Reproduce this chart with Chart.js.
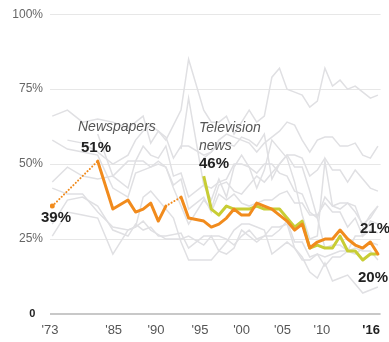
<!DOCTYPE html>
<html lang="en">
<head>
  <meta charset="UTF-8">
  <script src="https://cdn.jsdelivr.net/npm/chart.js@4.4.0/dist/chart.umd.min.js"></script>
  <title>Confidence in news media</title>
  <style>
    html, body { margin: 0; padding: 0; background: #fff; }
    #wrap { width: 389px; height: 342px; }
  </style>
</head>
<body>
  <div id="wrap"><canvas id="myChart" width="389" height="342"></canvas></div>

<script>
  // survey years (not asked every year before 1993)
  var years = [1973, 1975, 1977, 1979, 1981, 1983, 1984, 1985, 1986, 1987, 1988, 1989, 1990, 1991,
    1993, 1994, 1995, 1996, 1997, 1998, 1999, 2000, 2001, 2002, 2003, 2004,
    2005, 2006, 2007, 2008, 2009, 2010, 2011, 2012, 2013, 2014, 2015, 2016];

  // % with a great deal / quite a lot of confidence
  // (null = not asked that year, bridged with a dotted line)
  var newspapers = [36, null, null, 51, 35, 38, 34, 35, 37, 31, 36, null, 39, 32,
    31, 29, 30, 32, 35, 33, 33, 37, 36, 35, 33, 31,
    28, 30, 22, 24, 25, 25, 28, 25, 23, 22, 24, 20];
  var tvNews = [null, null, null, null, null, null, null, null, null, null, null, null, null, null,
    46, 35, 33, 36, 35, 35, 35, 36, 35, 35, 35, 32,
    29, 31, 22, 23, 22, 22, 26, 21, 21, 18, 20, 20];

  // other institutions, drawn in grey behind
  var military = [null, 58, 57, 54, 50, 53, 58, 61, 63, 61, 58, 63, 68, 85,
    68, 64, 64, 66, 60, 64, 68, 64, 66, 79, 82, 75,
    74, 73, 69, 71, 82, 76, 78, 75, 76, 74, 72, 73];
  var church = [66, 68, 64, 65, 64, 62, 64, 66, 57, 61, 59, 52, 56, 56,
    53, 54, 57, 57, 56, 59, 58, 56, 60, 45, 50, 53,
    53, 52, 46, 48, 52, 48, 48, 44, 48, 45, 42, 41];
  var supremeCourt = [44, 49, 46, 45, 46, 42, 51, 56, 53, 52, 56, 46, 47, 39,
    43, 42, 44, 45, 50, 50, 49, 47, 50, 50, 47, 46,
    41, 40, 34, 32, 39, 36, 37, 37, 34, 30, 32, 36];
  var schools = [58, 55, 54, 53, 42, 39, 47, 48, 49, 50, 49, 43, 45, 35,
    39, 34, 40, 38, 40, 37, 36, 37, 38, 38, 40, 41,
    37, 37, 33, 33, 37, 34, 34, 29, 32, 26, 31, 30];
  var banks = [null, null, null, 60, 46, 51, 51, 51, 49, 51, 49, 42, 36, 30,
    38, 35, 43, 44, 41, 40, 43, 46, 44, 47, 50, 53,
    49, 49, 41, 32, 22, 23, 23, 21, 26, 26, 28, 27];
  var police = [null, null, null, null, null, null, null, null, null, null, null, null, null, null,
    52, 54, 58, 60, 59, 58, 57, 54, 57, 59, 61, 64,
    63, 58, 54, 58, 59, 59, 56, 56, 57, 53, 52, 56];
  var labor = [30, 38, 39, 36, 28, 26, 30, 28, 29, 26, 26, null, 27, 22,
    26, 26, 26, 25, 23, 26, 28, 25, 26, 26, 28, 31,
    24, 24, 19, 20, 19, 20, 21, 21, 20, 22, 24, 23];
  var bigBusiness = [26, 34, 33, 32, 20, 28, 29, 31, 28, null, 25, null, 25, 26,
    23, 26, 21, 24, 28, 30, 30, 29, 28, 20, 22, 24,
    22, 18, 18, 20, 16, 19, 19, 21, 22, 21, 21, 18];
  var congress = [42, 40, 40, 34, 29, 28, 29, 39, 41, null, 35, 32, 24, 18,
    18, 18, 21, 20, 22, 28, 26, 24, 26, 29, 29, 30,
    22, 19, 14, 12, 17, 11, 12, 13, 10, 7, 8, 9];
  var presidency = [null, null, null, null, null, null, null, null, null, null, null, null, 55, 72,
    43, 38, 45, 39, 49, 53, 49, 42, 48, 58, 55, 52,
    44, 33, 25, 26, 51, 36, 35, 37, 36, 29, 33, 36];

  var greySeries = [military, church, supremeCourt, schools, banks, police, labor, bigBusiness, congress, presidency];

  // x axis labels (the picture spaces them on its own grid)
  var tickLabels = ["'73", "'85", "'90", "'95", "'00", "'05", "'10", "'16"];
  var tickPos = [1972.7, 1981.1, 1986.7, 1992.5, 1998.0, 2003.4, 2008.6, 2015.1];

  var FONT = '"Liberation Sans", Arial, sans-serif';
  var ORANGE = '#f18b1d';
  var GREEN = '#c8cd35';

  function toPoints(vals) {
    var out = [];
    for (var i = 0; i < years.length; i++) {
      out.push({ x: years[i], y: vals[i] });
    }
    return out;
  }

  function isZero(c) {
    return c.tick && c.tick.value === 0;
  }

  // text labels written on top of the lines
  var notes = [
    { t: 'Newspapers', x: 78, y: 131, font: 'italic 14px ' + FONT, color: '#555' },
    { t: '51%', x: 81, y: 152, font: 'bold 15px ' + FONT, color: '#222' },
    { t: '39%', x: 41, y: 222, font: 'bold 15px ' + FONT, color: '#222' },
    { t: 'Television', x: 199, y: 132, font: 'italic 14px ' + FONT, color: '#555' },
    { t: 'news', x: 199, y: 150, font: 'italic 14px ' + FONT, color: '#555' },
    { t: '46%', x: 199, y: 168, font: 'bold 15px ' + FONT, color: '#222' },
    { t: '21%', x: 360, y: 233, font: 'bold 15px ' + FONT, color: '#222' },
    { t: '20%', x: 358, y: 282, font: 'bold 15px ' + FONT, color: '#222' }
  ];

  var notesPlugin = {
    id: 'notes',
    afterDatasetsDraw(chart) {
      var ctx = chart.ctx;
      ctx.save();
      ctx.textAlign = 'left';
      ctx.textBaseline = 'alphabetic';
      notes.forEach(function (n) {
        ctx.font = n.font;
        ctx.fillStyle = n.color;
        ctx.fillText(n.t, n.x, n.y);
      });
      ctx.restore();
    }
  };

  // segment touching a missing survey -> dotted
  function isGap(c) {
    return c.p0.skip || c.p1.skip;
  }

  var datasets = [
    {
      label: 'Newspapers',
      data: toPoints(newspapers),
      borderColor: ORANGE,
      backgroundColor: ORANGE,
      borderWidth: 3,
      borderJoinStyle: 'round',
      borderCapStyle: 'round',
      spanGaps: true,
      pointRadius: function (c) { return c.dataIndex === 0 ? 2.5 : 0; },
      pointBorderWidth: 0,
      segment: {
        borderDash: function (c) { return isGap(c) ? [0.1, 3.2] : undefined; },
        borderWidth: function (c) { return isGap(c) ? 2 : undefined; }
      }
    },
    {
      label: 'Television news',
      data: toPoints(tvNews),
      borderColor: GREEN,
      borderWidth: 3,
      borderJoinStyle: 'round',
      pointRadius: 0
    }
  ];

  greySeries.forEach(function (vals) {
    datasets.push({
      data: toPoints(vals),
      borderColor: '#e0e0e3',
      borderWidth: 1.5,
      spanGaps: true,
      pointRadius: 0
    });
  });

  var chart = new Chart(document.getElementById('myChart'), {
    type: 'line',
    data: { datasets: datasets },
    plugins: [notesPlugin],
    options: {
      responsive: false,
      animation: false,
      devicePixelRatio: 1,
      layout: { padding: { top: 7, right: 2, left: 0, bottom: 0 } },
      elements: { line: { tension: 0 } },
      plugins: {
        legend: { display: false },
        tooltip: { enabled: false }
      },
      scales: {
        x: {
          type: 'linear',
          min: 1972.7,
          max: 2016.35,
          border: { display: false },
          grid: { display: false, drawTicks: false },
          afterBuildTicks: function (s) {
            s.ticks = tickPos.map(function (v) { return { value: v }; });
          },
          afterFit: function (s) { s.height = 28; },
          ticks: {
            autoSkip: false,
            maxRotation: 0,
            padding: 9,
            callback: function (v, i) { return tickLabels[i]; },
            color: function (c) { return c.index === tickLabels.length - 1 ? '#222' : '#555'; },
            font: function (c) {
              return { family: FONT, size: 13, weight: c.index === tickLabels.length - 1 ? 'bold' : 'normal' };
            }
          }
        },
        y: {
          min: 0,
          max: 100,
          border: { display: false },
          afterFit: function (s) { s.width = 50; },
          grid: {
            drawTicks: false,
            color: function (c) { return isZero(c) ? '#c8c8c8' : '#e7e7e7'; },
            lineWidth: function (c) { return isZero(c) ? 2 : 1; }
          },
          ticks: {
            stepSize: 25,
            padding: 7,
            callback: function (v) { return v === 0 ? '0\u2002\u2009' : v + '%'; },
            color: function (c) { return isZero(c) ? '#222' : '#666'; },
            font: function (c) {
              return isZero(c)
                ? { family: FONT, size: 11, weight: 'bold' }
                : { family: FONT, size: 12, weight: 'normal' };
            }
          }
        }
      }
    }
  });
</script>
</body>
</html>
